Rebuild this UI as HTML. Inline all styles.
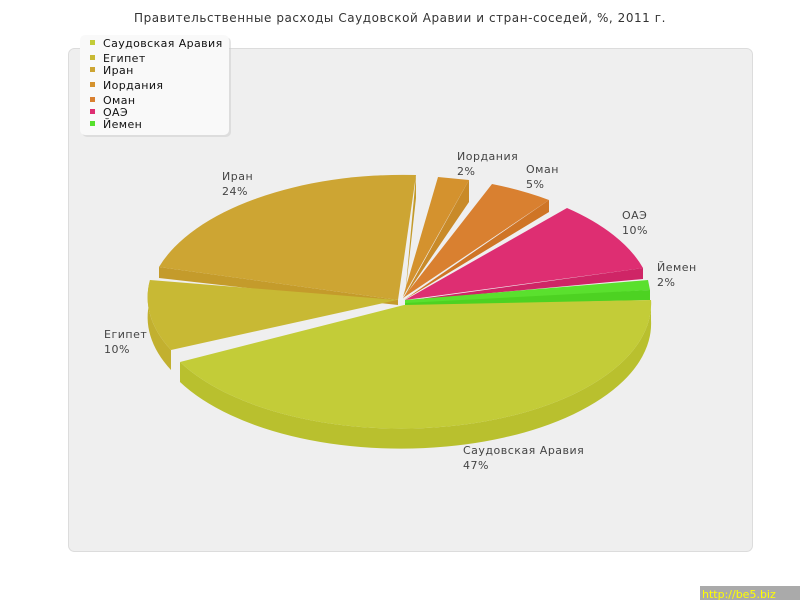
<!DOCTYPE html>
<html><head><meta charset="utf-8"><style>
body{margin:0;width:800px;height:600px;background:#fff;overflow:hidden;font-family:"Liberation Sans","DejaVu Sans",sans-serif}
</style></head><body>
<svg width="800" height="600" xmlns="http://www.w3.org/2000/svg" font-family="DejaVu Sans, Liberation Sans, sans-serif">
<rect width="800" height="600" fill="#fff"/>
<text x="400" y="22" text-anchor="middle" font-size="12" fill="#333" letter-spacing="0.55">Правительственные расходы Саудовской Аравии и стран-соседей, %, 2011 г.</text>
<rect x="68.5" y="48.5" width="684" height="503" rx="6" fill="#efefef" stroke="#dcdcdc"/>
<!-- Iran -->
<path d="M159,267 L159,278 L398,305 L398,300 Z" fill="#c49b2b"/>
<path d="M398,300 L159,267 A255,130 0 0 1 416,175 Z" fill="#cda533"/>
<path d="M416,175 L416,198 L405,297 Z" fill="#c49b2b"/>
<!-- Egypt -->
<path d="M150,280 A250,125 0 0 0 171,350 L171,370 A250,125 0 0 1 150,300 Z" fill="#c2b02f"/>
<path d="M397,300 L150,280 A250,125 0 0 0 171,350 Z" fill="#c8b934"/>
<!-- Jordan -->
<path d="M403,297 L438,177 L469,180 Z" fill="#d4922e"/>
<path d="M469,180 L469,202 L403,299 Z" fill="#c98a28"/>
<!-- Oman -->
<path d="M403,298 L492,184 A250,125 0 0 1 549,200 Z" fill="#d98030"/>
<path d="M549,200 L549,212 L404,300 Z" fill="#cf7526"/>
<!-- UAE -->
<path d="M405,300 L567,208 A250,125 0 0 1 643,268 Z" fill="#de2e72"/>
<path d="M643,268 L643,279 L405,301 Z" fill="#cf2566"/>
<!-- Yemen -->
<path d="M405,300 L648,280 L650,290 L405,305 Z" fill="#5ae02e"/>
<path d="M405,303 L650,290 L650,300 L405,306 Z" fill="#4dd222"/>
<!-- Saudi -->
<path d="M651,300 A250,125 0 0 1 180,362 L180,382 A250,125 0 0 0 651,320 Z" fill="#b9c02e"/>
<path d="M404,305 L651,300 A250,125 0 0 1 180,362 Z" fill="#c3cc38"/>
<g font-size="11" fill="#444" letter-spacing="0.5">
<text x="222" y="180">Иран</text><text x="222" y="195">24%</text>
<text x="457" y="160">Иордания</text><text x="457" y="175">2%</text>
<text x="526" y="173">Оман</text><text x="526" y="188">5%</text>
<text x="622" y="219">ОАЭ</text><text x="622" y="234">10%</text>
<text x="657" y="271">Йемен</text><text x="657" y="286">2%</text>
<text x="104" y="338">Египет</text><text x="104" y="353">10%</text>
<text x="463" y="454">Саудовская Аравия</text><text x="463" y="469">47%</text>
</g>
<rect x="82" y="37" width="149" height="100" rx="5" fill="#ccc" opacity="0.5"/>
<rect x="80" y="35" width="149" height="100" rx="5" fill="#f9f9f9"/>
<g font-size="11" fill="#111" letter-spacing="0.4">
<rect x="90" y="40" width="5" height="5" fill="#c3cc38"/><text x="103" y="47">Саудовская Аравия</text>
<rect x="90" y="55" width="5" height="5" fill="#c8b934"/><text x="103" y="62">Египет</text>
<rect x="90" y="67" width="5" height="5" fill="#cda533"/><text x="103" y="74">Иран</text>
<rect x="90" y="82" width="5" height="5" fill="#d4922e"/><text x="103" y="89">Иордания</text>
<rect x="90" y="97" width="5" height="5" fill="#d98030"/><text x="103" y="104">Оман</text>
<rect x="90" y="109" width="5" height="5" fill="#de2e72"/><text x="103" y="116">ОАЭ</text>
<rect x="90" y="121" width="5" height="5" fill="#55e02c"/><text x="103" y="128">Йемен</text>
</g>
<rect x="700" y="586" width="100" height="14" fill="#aaa"/>
<text x="702" y="598" font-size="11" fill="#ff0">http://be5.biz</text>
</svg>
</body></html>
